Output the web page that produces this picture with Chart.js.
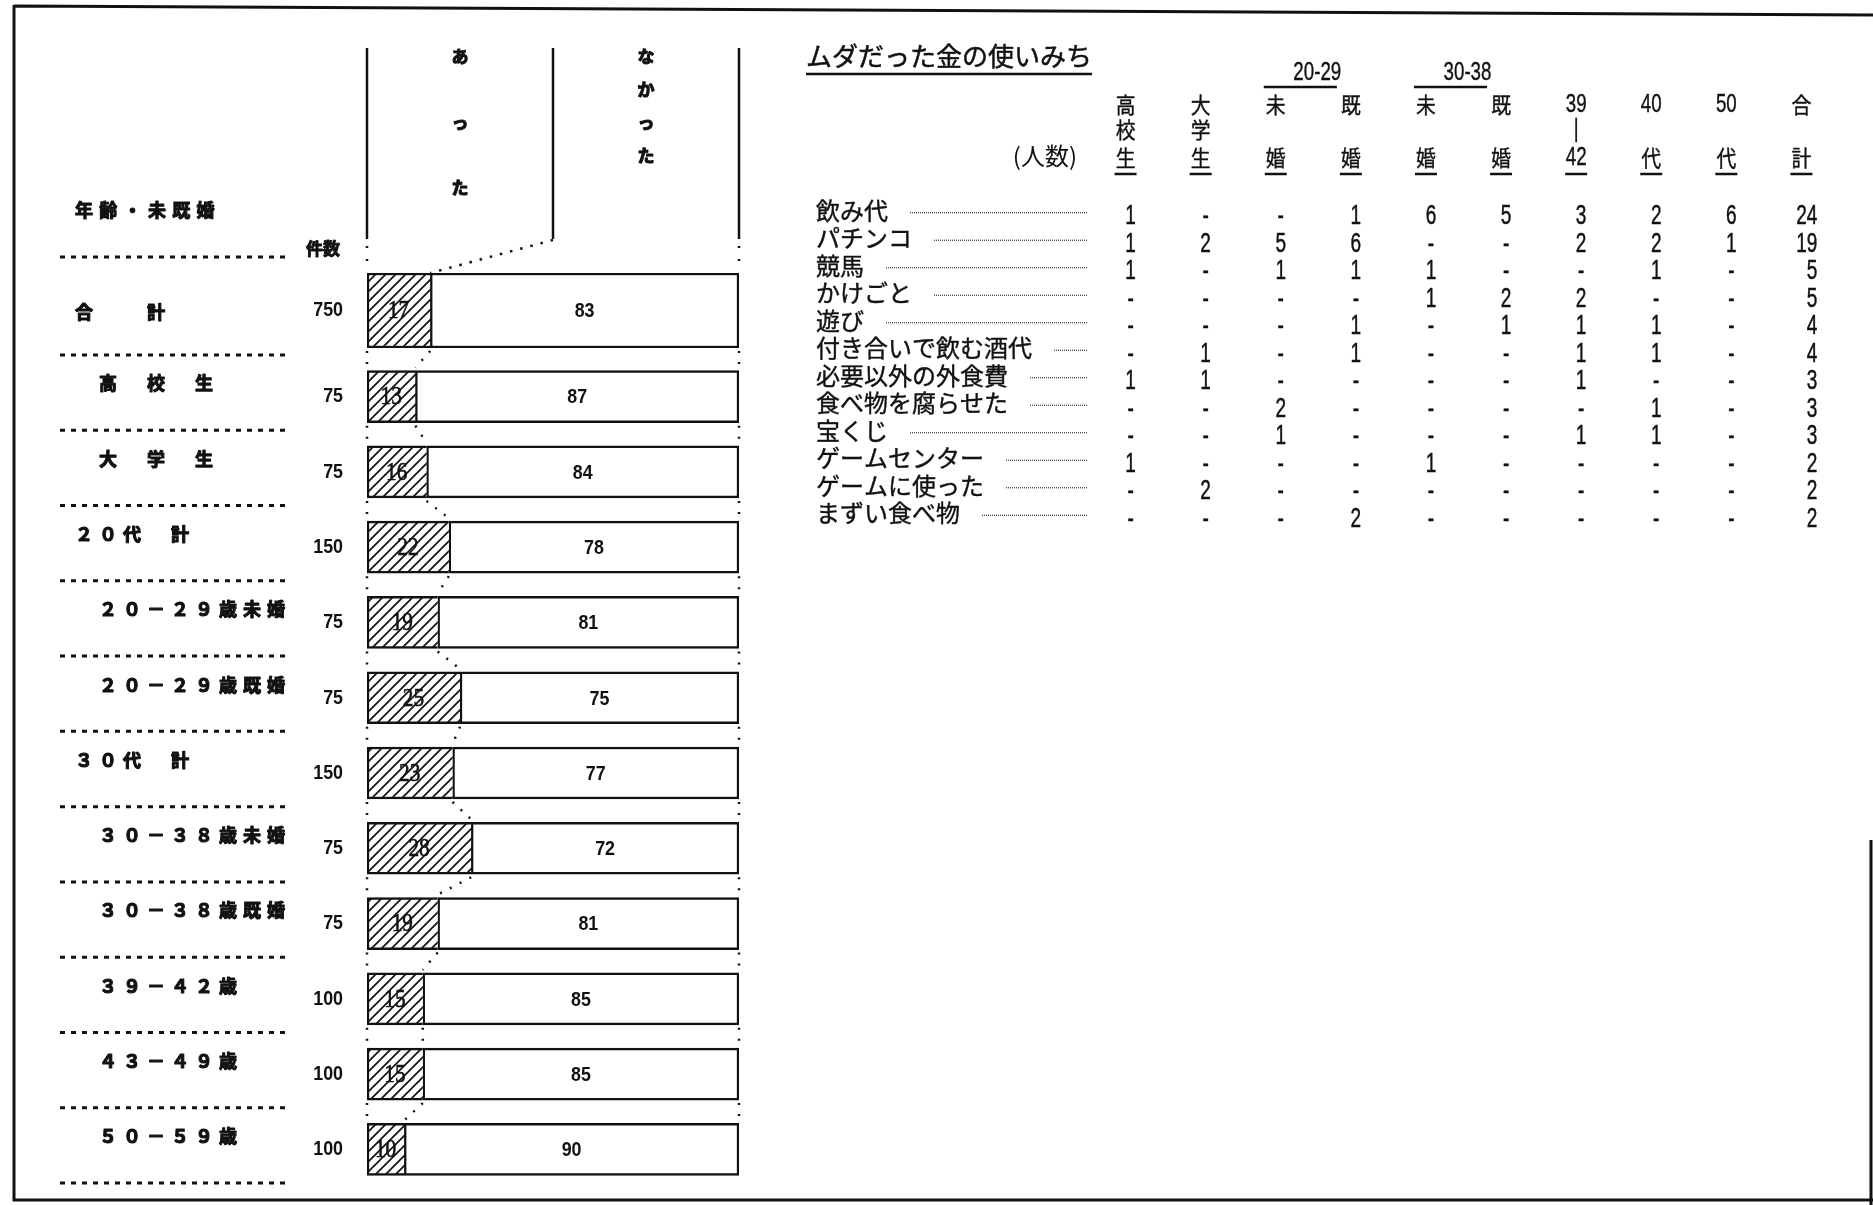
<!DOCTYPE html>
<html lang="ja">
<head>
<meta charset="utf-8">
<title>ムダだった金の使いみち</title>
<script src="https://cdn.jsdelivr.net/npm/chart.js@4.4.1/dist/chart.umd.min.js"></script>
<style>
  html, body { margin: 0; padding: 0; background: #fff; }
  #page { position: relative; width: 1873px; height: 1205px; overflow: hidden; background: #fff; }
  #page canvas { position: absolute; left: 0; top: 0; }
</style>
</head>
<body>
<div id="page">
  <canvas id="totalChart" width="1873" height="1205"></canvas>
  <canvas id="groupChart" width="1873" height="1205"></canvas>
  <canvas id="wasteChart" width="1873" height="1205"></canvas>
</div>
<script>
// 左：ムダ遣いが「あった／なかった」(%)
const groupLabels = ['合　　計', '　高　校　生', '　大　学　生', '２０代　計', '　２０－２９歳未婚', '　２０－２９歳既婚',
  '３０代　計', '　３０－３８歳未婚', '　３０－３８歳既婚', '　３９－４２歳', '　４３－４９歳', '　５０－５９歳'];
const counts = [750, 75, 75, 150, 75, 75, 150, 75, 75, 100, 100, 100];
const hadWaste = [17, 13, 16, 22, 19, 25, 23, 28, 19, 15, 15, 10];
const noWaste = [83, 87, 84, 78, 81, 75, 77, 72, 81, 85, 85, 90];
const hadHead = ['あ', 'っ', 'た'];
const noneHead = ['な', 'か', 'っ', 'た'];

// 右：ムダだった金の使いみち（人数）
const wasteItems = ['飲み代', 'パチンコ', '競馬', 'かけごと', '遊び', '付き合いで飲む酒代', '必要以外の外食費',
  '食べ物を腐らせた', '宝くじ', 'ゲームセンター', 'ゲームに使った', 'まずい食べ物'];
const columnNames = ['高校生', '大学生', '20-29未婚', '20-29既婚', '30-38未婚', '30-38既婚', '39-42', '40代', '50代', '合計'];
const columnHeads = [['高', '校', '生'], ['大', '学', '生'], ['未', '', '婚'], ['既', '', '婚'], ['未', '', '婚'],
  ['既', '', '婚'], ['39', '|', '42'], ['40', '', '代'], ['50', '', '代'], ['合', '', '計']];
const ageGroups = ['20-29', '30-38'];
const highSchool = [1, 1, 1, 0, 0, 0, 1, 0, 0, 1, 0, 0];
const university = [0, 2, 0, 0, 0, 1, 1, 0, 0, 0, 2, 0];
const single2029 = [0, 5, 1, 0, 0, 0, 0, 2, 1, 0, 0, 0];
const married2029 = [1, 6, 1, 0, 1, 1, 0, 0, 0, 0, 0, 2];
const single3038 = [6, 0, 1, 1, 0, 0, 0, 0, 0, 1, 0, 0];
const married3038 = [5, 0, 0, 2, 1, 0, 0, 0, 0, 0, 0, 0];
const age3942 = [3, 2, 0, 2, 1, 1, 1, 0, 1, 0, 0, 0];
const forties = [2, 2, 1, 0, 1, 1, 0, 1, 1, 0, 0, 0];
const fifties = [6, 1, 0, 0, 0, 0, 0, 0, 0, 0, 0, 0];
const totalPeople = [24, 19, 5, 5, 4, 4, 3, 3, 3, 2, 2, 2];
const columnSeries = [highSchool, university, single2029, married2029, single3038, married3038, age3942, forties, fifties, totalPeople];

const JP = '"Noto Sans CJK JP", "Noto Sans", sans-serif';
const SANS = '"Liberation Sans", Arial, sans-serif';
const SERIF = '"Liberation Serif", "DejaVu Serif", serif';
const INK = '#111';

function makeHatch() {
  const c = document.createElement('canvas');
  c.width = 10; c.height = 10;
  const g = c.getContext('2d');
  g.fillStyle = '#fff';
  g.fillRect(0, 0, 10, 10);
  g.strokeStyle = INK;
  g.lineWidth = 1.7;
  g.beginPath();
  g.moveTo(0, 10); g.lineTo(10, 0);
  g.moveTo(-2, 2); g.lineTo(2, -2);
  g.moveTo(8, 12); g.lineTo(12, 8);
  g.stroke();
  return g.createPattern(c, 'repeat');
}
const hatch = makeHatch();

// 太字の代わりに縁取りで太らせる
function heavyText(ctx, text, x, y, w) {
  ctx.save();
  ctx.lineWidth = w;
  ctx.strokeStyle = INK;
  ctx.lineJoin = 'round';
  ctx.strokeText(text, x, y);
  ctx.fillText(text, x, y);
  ctx.restore();
}

function drawSpaced(ctx, text, x, y, advance) {
  Array.from(text).forEach((ch, k) => heavyText(ctx, ch, x + k * advance, y, 1.1));
}

// 細長い数字（横方向に縮める）
function narrowText(ctx, text, x, y, align, squeeze, weight) {
  ctx.save();
  ctx.translate(x, y);
  ctx.scale(squeeze, 1);
  ctx.textAlign = align;
  if (weight) {
    ctx.lineWidth = weight;
    ctx.strokeStyle = INK;
    ctx.strokeText(text, 0, 0);
  }
  ctx.fillText(text, 0, 0);
  ctx.restore();
}

function dotted(ctx, x1, y1, x2, y2, dash, width) {
  ctx.save();
  ctx.setLineDash(dash);
  ctx.lineWidth = width;
  ctx.strokeStyle = INK;
  ctx.beginPath();
  ctx.moveTo(x1, y1);
  ctx.lineTo(x2, y2);
  ctx.stroke();
  ctx.restore();
}

function separator(ctx, y) {
  dotted(ctx, 60, y, 288, y, [5, 6], 3);
}

// 件数・ラベル・バー内の数字
function rowTextPlugin(first, labelShift) {
  return {
    id: 'rowText' + first,
    afterDatasetsDraw(chart) {
      const ctx = chart.ctx;
      const had = chart.getDatasetMeta(0).data;
      const none = chart.getDatasetMeta(1).data;
      ctx.save();
      ctx.fillStyle = INK;
      ctx.textBaseline = 'middle';
      had.forEach((bar, k) => {
        const i = first + k;
        const y = bar.y;
        ctx.textAlign = 'left';
        ctx.font = 'bold 18px ' + JP;
        drawSpaced(ctx, groupLabels[i], 75, y + labelShift, 24);
        ctx.font = 'bold 21px ' + SANS;
        narrowText(ctx, String(counts[i]), 343, y, 'right', 0.85);
        ctx.font = '26px ' + SERIF;
        narrowText(ctx, String(hadWaste[i]), (bar.x + bar.base) / 2, y + 1, 'center', 0.82, 0.6);
        ctx.font = 'bold 21px ' + SANS;
        narrowText(ctx, String(noWaste[i]), (none[k].x + none[k].base) / 2, y + 1, 'center', 0.85);
      });
      ctx.restore();
    }
  };
}

// 見出し（あった／なかった）
const headerPlugin = {
  id: 'header',
  afterDatasetsDraw(chart) {
    const ctx = chart.ctx;
    const x = chart.scales.x;
    const bar = chart.getDatasetMeta(0).data[0];
    const top = bar.y - bar.height / 2;
    const x0 = x.getPixelForValue(0), xm = x.getPixelForValue(50), x1 = x.getPixelForValue(100);
    ctx.save();
    ctx.strokeStyle = INK;
    ctx.lineWidth = 2.5;
    ctx.beginPath();
    [x0, xm, x1].forEach(px => { ctx.moveTo(px, 48); ctx.lineTo(px, 239); });
    ctx.stroke();
    dotted(ctx, x0, 246, x0, top - 4, [2, 11], 2.5);
    dotted(ctx, x1, 246, x1, top - 4, [2, 11], 2.5);
    dotted(ctx, xm, 240, x.getPixelForValue(hadWaste[0]), top, [2.5, 8], 2.5);
    ctx.fillStyle = INK;
    ctx.textAlign = 'center';
    ctx.textBaseline = 'middle';
    ctx.font = 'bold 17px ' + JP;
    hadHead.forEach((ch, k) => heavyText(ctx, ch, (x0 + xm) / 2, 57 + k * 65.5, 1.1));
    noneHead.forEach((ch, k) => heavyText(ctx, ch, (xm + x1) / 2, 57 + k * 33, 1.1));
    ctx.textAlign = 'left';
    ctx.font = 'bold 18px ' + JP;
    drawSpaced(ctx, '年齢・未既婚', 75, 210, 24.3);
    ctx.font = 'bold 17px ' + JP;
    heavyText(ctx, '件数', 306, 249, 0.9);
    separator(ctx, top - 16);
    ctx.restore();
  }
};

// 区切りの点線
const rowLinesPlugin = {
  id: 'rowLines',
  afterDatasetsDraw(chart) {
    const ctx = chart.ctx;
    const x = chart.scales.x;
    const had = chart.getDatasetMeta(0).data;
    const step = (chart.chartArea.bottom - chart.chartArea.top) / had.length;
    const prevTotal = totalChart.getDatasetMeta(0).data[0];
    had.forEach((bar, k) => {
      separator(ctx, bar.y - step / 2 - 4);
      const prev = k === 0 ? prevTotal : had[k - 1];
      const yFrom = prev.y + prev.height / 2 + 3;
      const yTo = bar.y - bar.height / 2 - 3;
      dotted(ctx, x.getPixelForValue(0), yFrom, x.getPixelForValue(0), yTo, [2, 9], 2.5);
      dotted(ctx, x.getPixelForValue(100), yFrom, x.getPixelForValue(100), yTo, [2, 9], 2.5);
      dotted(ctx, x.getPixelForValue(hadWaste[k]), yFrom, x.getPixelForValue(hadWaste[k + 1]), yTo, [2, 9], 2.5);
    });
    const last = had[had.length - 1];
    separator(ctx, last.y + step / 2 - 4);
  }
};

function barOptions(top, bottom) {
  return {
    indexAxis: 'y',
    responsive: false,
    animation: false,
    events: [],
    layout: { padding: { left: 367, right: 1873 - 739, top: top, bottom: 1205 - bottom } },
    plugins: { legend: { display: false }, tooltip: { enabled: false } },
    scales: {
      x: { stacked: true, min: 0, max: 100, display: false },
      y: { stacked: true, display: false }
    }
  };
}

function barDatasets(from, to, thickness) {
  return [
    { label: 'あった', data: hadWaste.slice(from, to), backgroundColor: hatch, borderColor: INK,
      borderWidth: 2.5, borderSkipped: 'end', barThickness: thickness },
    { label: 'なかった', data: noWaste.slice(from, to), backgroundColor: '#fff', borderColor: INK,
      borderWidth: 2.5, borderSkipped: false, barThickness: thickness }
  ];
}

const totalChart = new Chart(document.getElementById('totalChart'), {
  type: 'bar',
  data: { labels: groupLabels.slice(0, 1), datasets: barDatasets(0, 1, 75) },
  options: barOptions(273, 348),
  plugins: [headerPlugin, rowTextPlugin(0, 2)]
});

const groupChart = new Chart(document.getElementById('groupChart'), {
  type: 'bar',
  data: { labels: groupLabels.slice(1), datasets: barDatasets(1, groupLabels.length, 52) },
  options: barOptions(359, 1187),
  plugins: [rowLinesPlugin, rowTextPlugin(1, -13)]
});

// 外枠
const framePlugin = {
  id: 'frame',
  beforeDraw(chart) {
    const ctx = chart.ctx;
    ctx.save();
    ctx.strokeStyle = INK;
    ctx.lineWidth = 3;
    ctx.beginPath();
    ctx.moveTo(14, 6); ctx.lineTo(1873, 15);
    ctx.moveTo(14, 5); ctx.lineTo(14, 1200);
    ctx.lineTo(1873, 1200);
    ctx.moveTo(1871, 840); ctx.lineTo(1871, 1205);
    ctx.stroke();
    ctx.restore();
  }
};

// 表の見出し・項目名・数値
const tablePlugin = {
  id: 'wasteTable',
  afterDatasetsDraw(chart) {
    const ctx = chart.ctx;
    const xs = chart.scales.x, ys = chart.scales.y;
    ctx.save();
    ctx.fillStyle = INK;
    ctx.strokeStyle = INK;
    ctx.textBaseline = 'middle';

    ctx.font = '26px ' + JP;
    ctx.textAlign = 'left';
    const title = 'ムダだった金の使いみち';
    heavyText(ctx, title, 806, 56, 0.5);
    const tw = ctx.measureText(title).width;
    ctx.lineWidth = 2.5;
    ctx.beginPath(); ctx.moveTo(806, 74); ctx.lineTo(806 + tw, 74); ctx.stroke();

    ageGroups.forEach((g, k) => {
      const a = xs.getPixelForValue(2 + 2 * k) - 5, b = xs.getPixelForValue(3 + 2 * k) - 5;
      ctx.font = '26px ' + SANS;
      narrowText(ctx, g, (a + b) / 2 + 4, 73, 'center', 0.72, 0.4);
      ctx.lineWidth = 2.5;
      ctx.beginPath(); ctx.moveTo(a - 12, 87); ctx.lineTo(b - 14, 87); ctx.stroke();
    });

    columnHeads.forEach((lines, j) => {
      const x = xs.getPixelForValue(j) - 5;
      [105, 130, 158].forEach((y, r) => {
        const s = lines[r];
        if (!s) return;
        if (/^[0-9|]+$/.test(s)) {
          ctx.font = '26px ' + SANS;
          narrowText(ctx, s, x, y, 'center', 0.72, 0.4);
        } else {
          ctx.font = '22px ' + JP;
          narrowText(ctx, s, x, y, 'center', 0.9, 0.4);
        }
      });
      ctx.lineWidth = 2.5;
      ctx.beginPath(); ctx.moveTo(x - 11, 174); ctx.lineTo(x + 11, 174); ctx.stroke();
    });

    ctx.font = '24px ' + JP;
    ctx.textAlign = 'right';
    ctx.fillText('(人数)', 1077, 156);

    wasteItems.forEach((item, i) => {
      const y = ys.getPixelForValue(i) - 5;
      ctx.font = '24px ' + JP;
      ctx.textAlign = 'left';
      heavyText(ctx, item, 816, y, 0.4);
      const end = 816 + ctx.measureText(item).width;
      ctx.save();
      ctx.strokeStyle = '#333';
      ctx.setLineDash([1, 1]);
      ctx.lineWidth = 1.2;
      ctx.beginPath(); ctx.moveTo(end + 22, y + 2); ctx.lineTo(1087, y + 2); ctx.stroke();
      ctx.restore();
    });

    ctx.font = '28px ' + SANS;
    columnSeries.forEach((series, j) => {
      const pts = chart.getDatasetMeta(j).data;
      const isTotal = j === columnSeries.length - 1;
      pts.forEach((pt, i) => {
        const v = series[i];
        const txt = v === 0 ? '-' : String(v);
        narrowText(ctx, txt, isTotal ? pt.x + 11 : pt.x, pt.y + 1, isTotal ? 'right' : 'center', 0.68, 0.5);
      });
    });
    ctx.restore();
  }
};

const wasteChart = new Chart(document.getElementById('wasteChart'), {
  type: 'line',
  data: {
    datasets: columnSeries.map((series, j) => ({
      label: columnNames[j],
      data: series.map((v, i) => ({ x: columnNames[j], y: wasteItems[i] })),
      showLine: false,
      pointRadius: 0
    }))
  },
  options: {
    responsive: false,
    animation: false,
    events: [],
    layout: { padding: { left: 1093, right: 1873 - 1844, top: 202, bottom: 1205 - 532 } },
    plugins: { legend: { display: false }, tooltip: { enabled: false } },
    scales: {
      x: { type: 'category', labels: columnNames, offset: true, display: false },
      y: { type: 'category', labels: wasteItems, offset: true, display: false }
    }
  },
  plugins: [framePlugin, tablePlugin]
});
</script>
</body>
</html>
